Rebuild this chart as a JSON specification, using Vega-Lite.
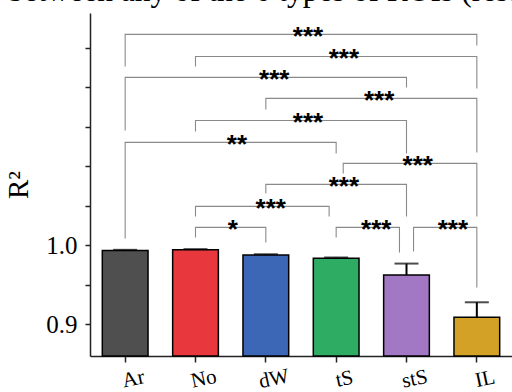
{
  "$schema": "https://vega.github.io/schema/vega-lite/v6.json",
  "width": 422,
  "height": 343,
  "autosize": {"type": "none"},
  "padding": {"left": 90, "top": 13, "right": 0, "bottom": 36},
  "background": "white",
  "title": {
    "text": "between any of the 6 types of ROIs (rest",
    "anchor": "start",
    "frame": "group",
    "font": "Liberation Serif",
    "fontSize": 31.5,
    "fontWeight": "normal",
    "color": "black",
    "baseline": "alphabetic",
    "offset": 6,
    "dx": -82,
    "dy": 25
  },
  "datasets": {
    "bars": [
      {"cat": "Ar", "val": 0.9935, "hi": 0.9944},
      {"cat": "No", "val": 0.9945, "hi": 0.9953},
      {"cat": "dW", "val": 0.9880, "hi": 0.9888},
      {"cat": "tS", "val": 0.9838, "hi": 0.9846},
      {"cat": "stS", "val": 0.9624, "hi": 0.9770},
      {"cat": "IL", "val": 0.9090, "hi": 0.9280}
    ],
    "brackets": [
      {"bid": 1, "o": 1, "bx": 0, "by": 1.2266}, {"bid": 1, "o": 2, "bx": 0, "by": 1.2671}, {"bid": 1, "o": 3, "bx": 5, "by": 1.2671}, {"bid": 1, "o": 4, "bx": 5, "by": 1.2532},
      {"bid": 2, "o": 1, "bx": 1, "by": 1.2266}, {"bid": 2, "o": 2, "bx": 1, "by": 1.2392}, {"bid": 2, "o": 3, "bx": 5, "by": 1.2392}, {"bid": 2, "o": 4, "bx": 5, "by": 1.1987},
      {"bid": 3, "o": 1, "bx": 0, "by": 1.1456}, {"bid": 3, "o": 2, "bx": 0, "by": 1.2127}, {"bid": 3, "o": 3, "bx": 4, "by": 1.2127}, {"bid": 3, "o": 4, "bx": 4, "by": 1.2000},
      {"bid": 4, "o": 1, "bx": 2, "by": 1.1722}, {"bid": 4, "o": 2, "bx": 2, "by": 1.1861}, {"bid": 4, "o": 3, "bx": 5, "by": 1.1861}, {"bid": 4, "o": 4, "bx": 5, "by": 1.1177},
      {"bid": 5, "o": 1, "bx": 1, "by": 1.1443}, {"bid": 5, "o": 2, "bx": 1, "by": 1.1582}, {"bid": 5, "o": 3, "bx": 4, "by": 1.1582}, {"bid": 5, "o": 4, "bx": 4, "by": 1.1165},
      {"bid": 6, "o": 1, "bx": 0, "by": 1.0089}, {"bid": 6, "o": 2, "bx": 0, "by": 1.1304}, {"bid": 6, "o": 3, "bx": 3, "by": 1.1304}, {"bid": 6, "o": 4, "bx": 3, "by": 1.1165},
      {"bid": 7, "o": 1, "bx": 3.1, "by": 1.0911}, {"bid": 7, "o": 2, "bx": 3.1, "by": 1.1038}, {"bid": 7, "o": 3, "bx": 5, "by": 1.1038}, {"bid": 7, "o": 4, "bx": 5, "by": 1.0367},
      {"bid": 8, "o": 1, "bx": 2, "by": 1.0658}, {"bid": 8, "o": 2, "bx": 2, "by": 1.0772}, {"bid": 8, "o": 3, "bx": 4, "by": 1.0772}, {"bid": 8, "o": 4, "bx": 4, "by": 1.0367},
      {"bid": 9, "o": 1, "bx": 1, "by": 1.0367}, {"bid": 9, "o": 2, "bx": 1, "by": 1.0494}, {"bid": 9, "o": 3, "bx": 2.9, "by": 1.0494}, {"bid": 9, "o": 4, "bx": 2.9, "by": 1.0367},
      {"bid": 10, "o": 1, "bx": 1, "by": 1.0101}, {"bid": 10, "o": 2, "bx": 1, "by": 1.0228}, {"bid": 10, "o": 3, "bx": 2, "by": 1.0228}, {"bid": 10, "o": 4, "bx": 2, "by": 1.0038},
      {"bid": 11, "o": 1, "bx": 3, "by": 1.0101}, {"bid": 11, "o": 2, "bx": 3, "by": 1.0228}, {"bid": 11, "o": 3, "bx": 3.9, "by": 1.0228}, {"bid": 11, "o": 4, "bx": 3.9, "by": 0.9911},
      {"bid": 12, "o": 1, "bx": 4.1, "by": 0.9924}, {"bid": 12, "o": 2, "bx": 4.1, "by": 1.0228}, {"bid": 12, "o": 3, "bx": 5, "by": 1.0228}, {"bid": 12, "o": 4, "bx": 5, "by": 0.9468}
    ],
    "stars": [
      {"lx": 2.6, "ly": 1.2671, "t": "***"},
      {"lx": 3.11, "ly": 1.2392, "t": "***"},
      {"lx": 2.12, "ly": 1.2127, "t": "***"},
      {"lx": 3.61, "ly": 1.1861, "t": "***"},
      {"lx": 2.6, "ly": 1.1582, "t": "***"},
      {"lx": 1.59, "ly": 1.1304, "t": "**"},
      {"lx": 4.16, "ly": 1.1038, "t": "***"},
      {"lx": 3.11, "ly": 1.0772, "t": "***"},
      {"lx": 2.07, "ly": 1.0494, "t": "***"},
      {"lx": 1.53, "ly": 1.0228, "t": "*"},
      {"lx": 3.57, "ly": 1.0228, "t": "***"},
      {"lx": 4.66, "ly": 1.0228, "t": "***"}
    ]
  },
  "layer": [
    {
      "data": {"name": "bars"},
      "encoding": {
        "x": {
          "field": "cat", "type": "nominal", "sort": null,
          "scale": {"paddingInner": 0.35, "paddingOuter": 0.175},
          "axis": {
            "title": null, "labelAngle": -12, "labelAlign": "center", "labelBaseline": "top",
            "labelFont": "Liberation Serif", "labelFontSize": 21, "labelColor": "black",
            "labelPadding": 6, "labelOffset": 6,
            "domainColor": "#222", "domainWidth": 1.5, "tickColor": "#222", "tickWidth": 1.5, "tickSize": 6, "grid": false
          }
        }
      },
      "layer": [
        {
          "mark": {"type": "bar", "stroke": "black", "strokeWidth": 1.5},
          "encoding": {
            "y": {
              "field": "val", "type": "quantitative",
              "scale": {"domain": [0.86, 1.2942], "zero": false, "nice": false},
              "axis": {
                "title": "R²", "titleFont": "Liberation Serif", "titleFontSize": 29, "titleFontWeight": "normal", "titleColor": "black", "titlePadding": 12,
                "values": [0.9, 0.95, 1.0, 1.05, 1.1, 1.15, 1.2, 1.25],
                "labelExpr": "abs(datum.value-0.9)<0.001 ? '0.9' : (abs(datum.value-1)<0.001 ? '1.0' : '')",
                "labelFont": "Liberation Serif", "labelFontSize": 25, "labelColor": "black", "labelPadding": 8,
                "domainColor": "#222", "domainWidth": 1.5, "tickColor": "#222", "tickWidth": 1.5, "tickSize": 5, "grid": false
              }
            },
            "y2": {"datum": 0.86},
            "fill": {
              "field": "cat", "type": "nominal", "legend": null,
              "scale": {"domain": ["Ar", "No", "dW", "tS", "stS", "IL"], "range": ["#4f4f4f", "#e8383e", "#3c66b6", "#2fac64", "#a277c3", "#d2a126"]}
            }
          }
        },
        {
          "mark": {"type": "rule", "color": "black", "strokeWidth": 2},
          "encoding": {
            "y": {"field": "val", "type": "quantitative"},
            "y2": {"field": "hi"}
          }
        },
        {
          "mark": {"type": "tick", "color": "black", "thickness": 2, "size": 24},
          "encoding": {
            "y": {"field": "hi", "type": "quantitative"}
          }
        }
      ]
    },
    {
      "layer": [
        {
          "data": {"name": "brackets"},
          "mark": {"type": "line", "color": "#8a8a8a", "strokeWidth": 1.1},
          "encoding": {
            "x": {"field": "bx", "type": "quantitative", "scale": {"domain": [-0.5, 5.5], "nice": false, "zero": false}, "axis": null},
            "y": {"field": "by", "type": "quantitative"},
            "detail": {"field": "bid"},
            "order": {"field": "o"}
          }
        },
        {
          "data": {"name": "stars"},
          "mark": {"type": "text", "font": "Liberation Sans", "fontWeight": "bold", "fontSize": 26, "baseline": "alphabetic", "dy": 11, "color": "black"},
          "encoding": {
            "x": {"field": "lx", "type": "quantitative"},
            "y": {"field": "ly", "type": "quantitative"},
            "text": {"field": "t"}
          }
        }
      ]
    }
  ],
  "resolve": {"scale": {"x": "independent"}},
  "config": {"view": {"stroke": null}}
}
